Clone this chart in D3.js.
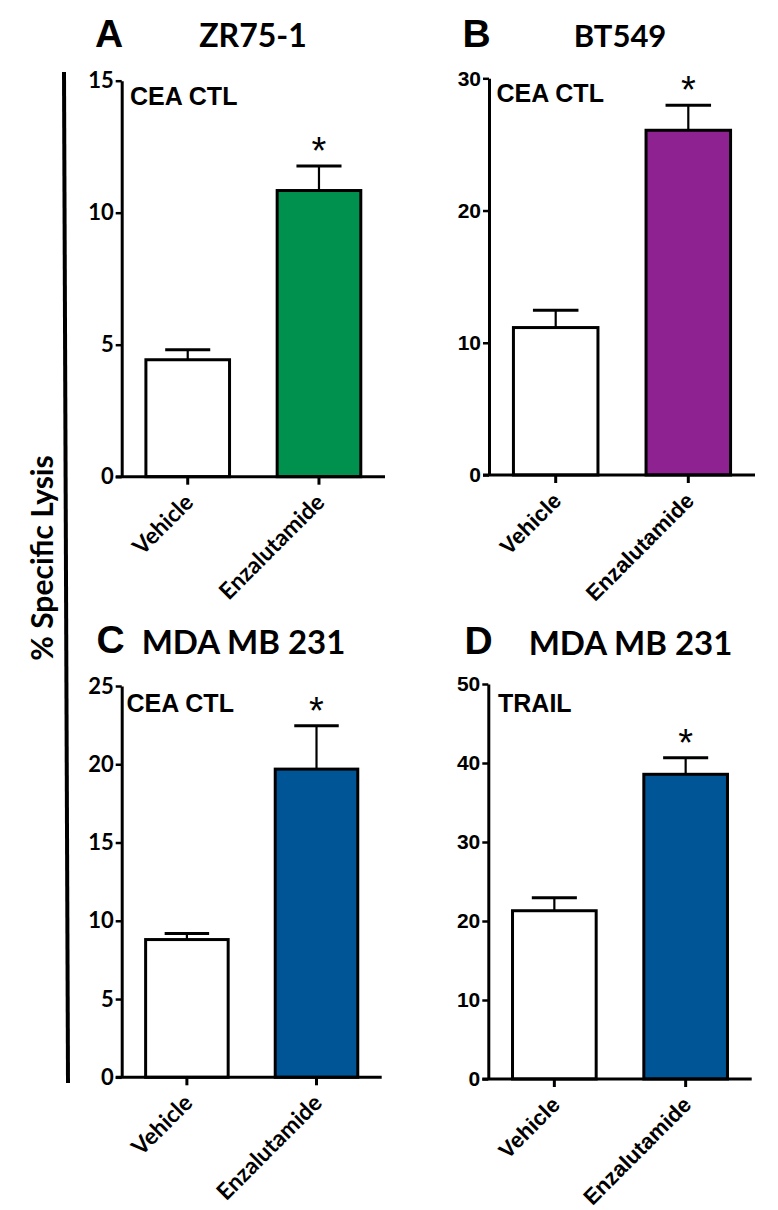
<!DOCTYPE html>
<html><head><meta charset="utf-8">
<script src="https://cdn.jsdelivr.net/npm/d3@7"></script>
<style>
html,body{margin:0;padding:0;background:#fff;}
svg{display:block;}
</style>
</head><body>
<svg id="chart" width="778" height="1210"></svg>
<script>
// ---- data ----
const categories = ["Vehicle", "Enzalutamide"];
const panelLetters = ["A", "B", "C", "D"];
const panelTitles = ["ZR75-1", "BT549", "MDA MB 231", "MDA MB 231"];
const panelNotes = ["CEA CTL", "CEA CTL", "CEA CTL", "TRAIL"];
const meansA = [4.43, 10.84];
const semA = [0.38, 0.93];
const meansB = [11.15, 26.07];
const semB = [1.3, 1.9];
const meansC = [8.8, 19.69];
const semC = [0.39, 2.77];
const meansD = [21.3, 38.57];
const semD = [1.65, 2.1];
const yMaxes = [15, 30, 25, 50];
const ticksA = [0, 5, 10, 15];
const ticksB = [0, 10, 20, 30];
const ticksC = [0, 5, 10, 15, 20, 25];
const ticksD = [0, 10, 20, 30, 40, 50];
const barColors = ["#00914f", "#8e2290", "#005596", "#005596"];
const yAxisLabel = "% Specific Lysis";
const significance = ["*", "*", "*", "*"];

const means = [meansA, meansB, meansC, meansD];
const sems = [semA, semB, semC, semD];
const tickSets = [ticksA, ticksB, ticksC, ticksD];

// ---- layout ----
const LATO = "Lato, 'Open Sans', sans-serif";
const ARIAL = "'Liberation Sans', Arial, sans-serif";
const layout = [
  {x0: 121.7, x1: 385, yTop: 80.7, y0: 476.7, tickFont: LATO, tickSize: 22, letterX: 95, letterY: 47, titleX: 253, titleY: 47, titleSize: 32, noteX: 130, noteY: 105},
  {x0: 489, x1: 755, yTop: 78.3, y0: 475, tickFont: ARIAL, tickSize: 21, letterX: 462.5, letterY: 47, titleX: 620, titleY: 47, titleSize: 31, noteX: 496.5, noteY: 101.7},
  {x0: 121.7, x1: 381.7, yTop: 686, y0: 1077.3, tickFont: LATO, tickSize: 22, letterX: 96.5, letterY: 653, titleX: 243.5, titleY: 654, titleSize: 33, noteX: 126.5, noteY: 711.7},
  {x0: 488.3, x1: 751.7, yTop: 684, y0: 1079, tickFont: ARIAL, tickSize: 21, letterX: 464.5, letterY: 654, titleX: 630.5, titleY: 655, titleSize: 33, noteX: 498, noteY: 711.7}
];

const svg = d3.select("#chart");

// big left vertical line and label
svg.append("line")
  .attr("x1", 64).attr("y1", 72).attr("x2", 68).attr("y2", 1083)
  .attr("stroke", "#000").attr("stroke-width", 4);
svg.append("text")
  .attr("transform", "translate(53,558) rotate(-90)")
  .attr("text-anchor", "middle")
  .attr("font-family", LATO).attr("font-weight", "bold")
  .attr("font-size", 30)
  .text(yAxisLabel);

layout.forEach((L, i) => {
  const g = svg.append("g");
  const x = d3.scaleBand().domain(categories).range([L.x0, L.x1])
    .paddingInner(0.34).paddingOuter(0.173);
  const y = d3.scaleLinear().domain([0, yMaxes[i]]).range([L.y0, L.yTop]);

  // bars
  const rows = categories.map((c, k) => ({c, m: means[i][k], e: sems[i][k], k}));
  g.selectAll("rect.bar").data(rows).enter().append("rect")
    .attr("class", "bar")
    .attr("x", d => x(d.c) + 1.5)
    .attr("width", x.bandwidth() - 3)
    .attr("y", d => y(d.m))
    .attr("height", d => y(0) - y(d.m))
    .attr("fill", d => d.k === 0 ? "#fff" : barColors[i])
    .attr("stroke", "#000").attr("stroke-width", 3);

  // error bars (upper only)
  const capW = x.bandwidth() * 0.52;
  rows.forEach(d => {
    const cx = x(d.c) + x.bandwidth() / 2;
    g.append("line").attr("x1", cx).attr("x2", cx)
      .attr("y1", y(d.m)).attr("y2", y(d.m + d.e))
      .attr("stroke", "#000").attr("stroke-width", 2.2);
    g.append("line").attr("x1", cx - capW / 2).attr("x2", cx + capW / 2)
      .attr("y1", y(d.m + d.e)).attr("y2", y(d.m + d.e))
      .attr("stroke", "#000").attr("stroke-width", 3);
  });

  // significance asterisk above treated bar
  const t = rows[1];
  g.append("text")
    .attr("x", x(t.c) + x.bandwidth() / 2)
    .attr("y", y(t.m + t.e) - 24 + 22)
    .attr("text-anchor", "middle")
    .attr("font-family", ARIAL)
    .attr("font-size", 38)
    .text(significance[i]);

  // y axis
  const ya = g.append("g").attr("transform", `translate(${L.x0},0)`)
    .call(d3.axisLeft(y).tickValues(tickSets[i]).tickSize(6).tickSizeOuter(0).tickPadding(2).tickFormat(d3.format("d")));
  ya.select(".domain").attr("stroke-width", 3);
  ya.selectAll(".tick line").attr("stroke-width", 2.5);
  ya.selectAll(".tick text").attr("font-family", L.tickFont).attr("font-weight", "bold")
    .attr("font-size", L.tickSize).attr("fill", "#000");

  // x axis
  const xa = g.append("g").attr("transform", `translate(0,${L.y0})`)
    .call(d3.axisBottom(x).tickSize(8).tickSizeOuter(0).tickFormat(""));
  xa.select(".domain").attr("stroke-width", 3)
    .attr("d", `M${L.x0 - 6},0H${L.x1}`);
  xa.selectAll(".tick line").attr("stroke-width", 3);
  xa.selectAll(".tick").append("text")
    .attr("transform", "translate(7,27) rotate(-45)")
    .attr("text-anchor", "end")
    .attr("fill", "#000")
    .attr("font-family", L.tickFont).attr("font-weight", "bold")
    .attr("font-size", L.tickFont === LATO ? 23 : 22)
    .text(d => d);

  // panel letter, title, note
  svg.append("text").attr("x", L.letterX).attr("y", L.letterY)
    .attr("font-family", ARIAL).attr("font-weight", "bold").attr("font-size", 39)
    .text(panelLetters[i]);
  svg.append("text").attr("x", L.titleX).attr("y", L.titleY)
    .attr("text-anchor", "middle")
    .attr("font-family", LATO).attr("font-weight", "bold").attr("font-size", L.titleSize)
    .text(panelTitles[i]);
  svg.append("text").attr("x", L.noteX).attr("y", L.noteY)
    .attr("font-family", ARIAL).attr("font-weight", "bold").attr("font-size", 25)
    .text(panelNotes[i]);
});
</script>
</body></html>
